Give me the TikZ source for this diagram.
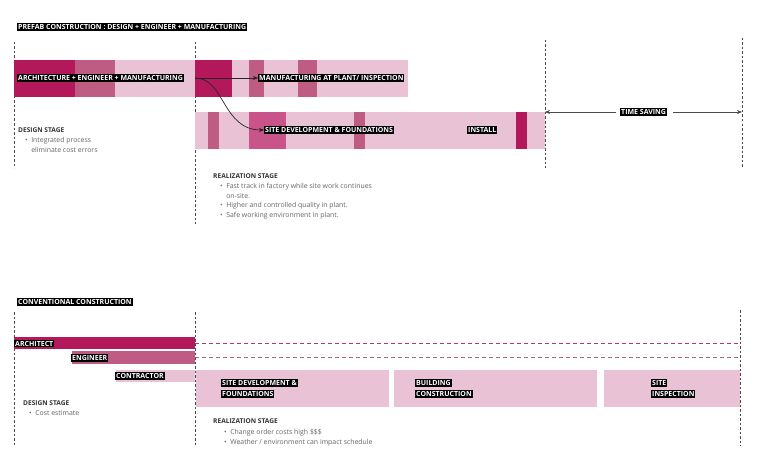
\documentclass[tikz,border=0pt]{standalone}
\usepackage{fontspec}
\setmainfont{Open Sans}
\usetikzlibrary{arrows.meta}
\definecolor{dk}{HTML}{B2185A}
\definecolor{md}{HTML}{BE5C83}
\definecolor{mdb}{HTML}{C9548A}
\definecolor{lt}{HTML}{E9C3D5}
\definecolor{dline}{HTML}{4A4A4A}
\definecolor{hd1}{HTML}{B8336A}
\definecolor{hd2}{HTML}{9A6A80}
\begin{document}
\begin{tikzpicture}[x=1pt,y=-1pt,
  blk/.style={fill=black,text=white,font=\fontsize{7}{8}\selectfont\bfseries,inner xsep=1pt,inner ysep=1.3pt,anchor=west},
  vdash/.style={draw=dline,dash pattern=on 2.5pt off 2pt,line width=0.9pt},
  hdash/.style={dash pattern=on 4pt off 3pt,line width=0.9pt},
  head/.style={font=\fontsize{6.6}{8}\selectfont\bfseries,text=black!80,anchor=west,inner sep=0pt},
  body/.style={font=\fontsize{6.9}{9.6}\selectfont,text=black!60,anchor=north west,inner sep=0pt,align=left},
  arr/.style={-{Stealth[length=5pt,width=4pt]},line width=0.7pt,draw=black!85}
]
\useasboundingbox[fill=white] (0,0) rectangle (770,468);

% ---------- PREFAB ----------
\node[blk,inner ysep=1pt] (t1) at (17,27) {PREFAB CONSTRUCTION : DESIGN + ENGINEER + MANUFACTURING};

% vertical dashed lines
\draw[vdash] (14,42) -- (14,168);
\draw[vdash] (195,42) -- (195,224);
\draw[vdash] (545,40) -- (545,168);
\draw[vdash] (742,38) -- (742,168);

% row 1 bar
\fill[lt] (14,60) rectangle (408,97);
\fill[dk] (14,60) rectangle (75,97);
\fill[md] (75,60) rectangle (115,97);
\fill[dk] (195,60) rectangle (232,97);
\fill[md] (249,60) rectangle (264,97);
\fill[md] (298,60) rectangle (317,97);

% row 2 bar
\fill[lt] (195,112) rectangle (545,149);
\fill[md] (208,112) rectangle (219,149);
\fill[mdb] (249,112) rectangle (286,149);
\fill[md] (354,112) rectangle (365,149);
\fill[dk] (516,112) rectangle (527,149);

% labels
\node[blk] (aem) at (17,78) {ARCHITECTURE + ENGINEER + MANUFACTURING};
\node[blk] (man) at (258,78) {MANUFACTURING AT PLANT/ INSPECTION};
\node[blk] (sdf) at (264,130) {SITE DEVELOPMENT \& FOUNDATIONS};
\node[blk] (ins) at (467,130) {INSTALL};
\node[blk,inner ysep=1pt] (ts) at (620,112) {TIME SAVING};

\coordinate (src) at (195,78);
\draw[arr] (src) -- (man.west);
\draw[arr] (src) .. controls (225,78) and (222,130) .. (sdf.west);

\coordinate (tsl) at (545,112);
\coordinate (tsr) at (742,112);
\draw[arr,draw=dline] ([xshift=-4pt]ts.west) -- (tsl);
\draw[arr,draw=dline] ([xshift=6pt]ts.east) -- (tsr);

% text blocks
\node[head] (ds1) at (18,130) {DESIGN STAGE};
\node[body] (ds1b) at (25,136) {\begin{tabular}{@{}l@{\hspace{3.5pt}}l@{}}\textbullet & Integrated process\\ & eliminate cost errors\end{tabular}};

\node[head] (rs1) at (213,176) {REALIZATION STAGE};
\node[body] (rs1b) at (220,181.5) {\begin{tabular}{@{}l@{\hspace{3.5pt}}l@{}}\textbullet & Fast track in factory while site work continues\\ & on-site.\\ \textbullet & Higher and controlled quality in plant.\\ \textbullet & Safe working environment in plant.\end{tabular}};

% ---------- CONVENTIONAL ----------
\node[blk,inner ysep=1pt] (t2) at (17,302) {CONVENTIONAL CONSTRUCTION};

\draw[vdash] (14,312) -- (14,446);
\draw[vdash] (195,312) -- (195,446);
\draw[vdash] (740,310) -- (740,446);

\fill[dk] (14,337) rectangle (195,349);
\fill[md] (72,351) rectangle (195,364);
\fill[lt] (116,370) rectangle (195,382);

\draw[hdash,draw=hd1] (195,343) -- (740,343);
\draw[hdash,draw=hd2] (195,357.5) -- (740,357.5);

\fill[lt] (196,370) rectangle (389,407);
\fill[lt] (394,370) rectangle (597,407);
\fill[lt] (604,370) rectangle (740,407);

\node[blk,inner ysep=1pt] (arc) at (14,343.5) {ARCHITECT};
\node[blk,inner ysep=1pt] (eng) at (71,358) {ENGINEER};
\node[blk,inner ysep=1pt] (con) at (115,376) {CONTRACTOR};

\node[blk,inner ysep=1pt] (sd1) at (221,383) {SITE DEVELOPMENT \&};
\node[blk,inner ysep=1pt] (sd2) at (221,394) {FOUNDATIONS};
\node[blk,inner ysep=1pt] (bc1) at (415,383) {BUILDING};
\node[blk,inner ysep=1pt] (bc2) at (415,394) {CONSTRUCTION};
\node[blk,inner ysep=1pt] (si1) at (651,383) {SITE};
\node[blk,inner ysep=1pt] (si2) at (651,394) {INSPECTION};

\node[head] (ds2) at (23,403) {DESIGN STAGE};
\node[body] (ds2b) at (29,408.5) {\begin{tabular}{@{}l@{\hspace{3.5pt}}l@{}}\textbullet & Cost estimate\end{tabular}};

\node[head] (rs2) at (213,421.5) {REALIZATION STAGE};
\node[body] (rs2b) at (224,427.5) {\begin{tabular}{@{}l@{\hspace{3.5pt}}l@{}}\textbullet & Change order costs high \$\$\$\\ \textbullet & Weather / environment can impact schedule\end{tabular}};

\end{tikzpicture}
\end{document}
